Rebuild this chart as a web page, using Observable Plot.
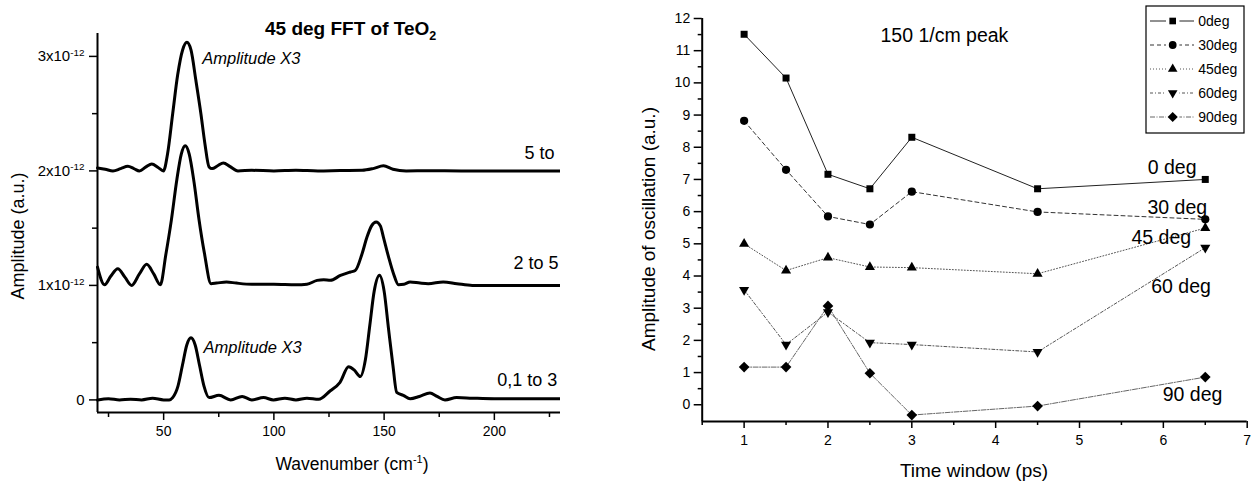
<!DOCTYPE html>
<html><head><meta charset="utf-8">
<script src="https://cdn.jsdelivr.net/npm/d3@7"></script>
<script src="https://cdn.jsdelivr.net/npm/@observablehq/plot@0.6"></script>
<style>
body{margin:0;background:#fff;}
#wrap{display:flex;width:1253px;height:484px;overflow:hidden;background:#fff;}
#wrap svg{overflow:hidden;flex:none;}
</style></head><body><div id="wrap"></div>
<script>
const FONT = '"Liberation Sans", Arial, Helvetica, sans-serif';

// ---------- Left panel: 45 deg FFT of TeO2 (amplitudes in units of 1e-12) ----------
const fftLabels = ["5 to", "2 to 5", "0,1 to 3"];
const fftOffsets = [2, 1, 0];
const wnTop  = [20, 23.5, 27, 30.5, 33.8, 36.5, 39, 42, 44.6, 47.5, 49.9, 51.8, 54.1, 56.35, 58.6, 60.55, 62.4, 64.6, 66.9, 68.7, 70.6, 72, 74.5, 77.1, 80, 83.7, 90, 100, 110, 120, 130, 140, 145, 149.7, 154, 160, 170, 185, 200, 230];
const ampTop = [0.026, 0.015, 0.0, 0.02, 0.04, 0.02, 0.0, 0.035, 0.06, 0.03, 0.0, 0.152, 0.499, 0.837, 1.056, 1.123, 1.056, 0.793, 0.499, 0.24, 0.035, 0.02, 0.045, 0.07, 0.04, 0.0, 0.005, 0.0, 0.005, 0.0, 0.003, 0.005, 0.02, 0.044, 0.015, 0.0, 0.002, 0.0, 0.0, 0.0];
const wnMid  = [20, 23.2, 26, 29.2, 32.5, 35.5, 39, 42.3, 45.5, 48.5, 51, 53.5, 56, 58, 59.8, 61.6, 63.8, 66, 68.5, 71.5, 74, 78.5, 83, 90, 100, 110, 115, 119.6, 122.6, 125.6, 130.2, 134.7, 136.9, 140, 142.2, 144.3, 146.4, 148.3, 149.7, 152, 154.3, 156.5, 159, 161.8, 166.3, 170, 176.8, 183, 190, 200, 230];
const ampMid = [0.16, 0.006, 0.08, 0.146, 0.07, 0.0, 0.1, 0.184, 0.1, 0.006, 0.27, 0.57, 0.925, 1.147, 1.22, 1.147, 0.9, 0.58, 0.28, 0.015, 0.02, 0.03, 0.02, 0.01, 0.01, 0.005, 0.01, 0.044, 0.05, 0.044, 0.087, 0.117, 0.13, 0.277, 0.42, 0.52, 0.554, 0.52, 0.42, 0.25, 0.10, 0.006, 0.01, 0.03, 0.02, 0.015, 0.03, 0.015, 0.0, 0.0, 0.0];
const wnBot  = [20, 25, 30, 35, 40, 45, 50, 52.5, 54.1, 56.5, 58.5, 60.5, 62.4, 64.3, 66.3, 68.3, 70.6, 75.1, 80.4, 85.6, 90, 95.3, 99.8, 105, 110, 115, 120.3, 125.6, 130, 133.9, 136.5, 139.2, 141.5, 143.5, 145.5, 147.9, 150, 152, 154, 155.7, 158.7, 161.8, 166, 170.8, 174, 177.6, 182.9, 190, 200, 230];
const ampBot = [0.0, 0.01, 0.0, 0.005, 0.0, 0.015, 0.0, 0.0, 0.02, 0.12, 0.3, 0.48, 0.542, 0.48, 0.3, 0.12, 0.02, 0.04, 0.0, 0.03, 0.0, 0.02, 0.0, 0.015, 0.0, 0.015, 0.005, 0.08, 0.154, 0.29, 0.26, 0.204, 0.35, 0.65, 0.95, 1.088, 0.95, 0.62, 0.3, 0.066, 0.04, 0.01, 0.03, 0.06, 0.03, 0.0, 0.02, 0.015, 0.01, 0.01];
const fftWn = [wnTop, wnMid, wnBot];
const fftAmp = [ampTop, ampMid, ampBot];
const fftLabelPos = [[213.7, 2.152], [208.7, 1.194], [201.3, 0.169]];
const x3Notes = ["Amplitude X3", "Amplitude X3"];
const x3Pos = [[67.5, 2.984], [68.1, 0.46]];
const leftYTicks = [0, 1, 2, 3];
const leftYMinor = [0.5, 1.5, 2.5];
const leftXTicks = [50, 100, 150, 200];
const leftXMinor = [25, 75, 125, 175, 225];
const E = 1e-12;

const fftRows = [];
fftWn.forEach((xs, i) => xs.forEach((w, j) => fftRows.push({s: i, w, a: (fftAmp[i][j] + fftOffsets[i]) * E})));

const left = Plot.plot({
  width: 560, height: 484,
  marginLeft: 97, marginRight: 0, marginTop: 33, marginBottom: 72,
  style: {fontFamily: FONT, fontSize: "14px", color: "black", background: "white", overflow: "hidden"},
  x: {domain: [20, 230]},
  y: {domain: [-0.11 * E, 3.2 * E]},
  marks: [
    Plot.axisX({ticks: leftXTicks, tickSize: 8, tickPadding: 6, strokeWidth: 1.5, label: null, fontSize: 14, tickFormat: d => String(d)}),
    Plot.axisX({ticks: leftXMinor, tickSize: 5, strokeWidth: 1.5, tickFormat: () => "", label: null}),
    Plot.axisY({ticks: leftYTicks.map(d => d * E), tickSize: 8, tickPadding: 5, strokeWidth: 1.5, label: null, fontSize: 15,
      tickFormat: d => { const k = Math.round(d / E); return k === 0 ? "0" : `${k}x10^-12`; }}),
    Plot.axisY({ticks: leftYMinor.map(d => d * E), tickSize: 5, strokeWidth: 1.5, tickFormat: () => "", label: null}),
    Plot.ruleX([20], {strokeWidth: 2}),
    Plot.ruleY([-0.11 * E], {strokeWidth: 2}),
    ...[0, 1, 2].map(i => Plot.line(fftRows.filter(r => r.s === i), {x: "w", y: "a", curve: "monotone-x", stroke: "black", strokeWidth: 3})),
    Plot.text(fftLabels, {x: (d, i) => fftLabelPos[i][0], y: (d, i) => fftLabelPos[i][1] * E, text: d => d, textAnchor: "start", fontSize: 18}),
    Plot.text(x3Notes, {x: (d, i) => x3Pos[i][0], y: (d, i) => x3Pos[i][1] * E, text: d => d, textAnchor: "start", fontSize: 16.5, fontStyle: "italic"})
  ]
});

// superscripts on y tick labels
d3.select(left).selectAll('g[aria-label="y-axis tick label"] text').each(function() {
  const t = this.textContent;
  if (t.includes("^")) {
    const [base, exp] = t.split("^");
    const sel = d3.select(this);
    sel.text(null);
    sel.append("tspan").text(base);
    sel.append("tspan").attr("dy", "-0.55em").attr("font-size", "0.66em").text(exp);
  }
});
{
  const s = d3.select(left);
  const title = s.append("text").attr("x", 265).attr("y", 35).attr("text-anchor", "start").attr("font-family", FONT).attr("font-weight", "bold").attr("font-size", 19).attr("fill", "black");
  title.append("tspan").text("45 deg FFT of TeO");
  title.append("tspan").attr("dy", 5).attr("font-size", 12.5).text("2");
  const xl = s.append("text").attr("x", 352).attr("y", 470).attr("text-anchor", "middle").attr("font-family", FONT).attr("font-size", 17.5).attr("fill", "black");
  xl.append("tspan").text("Wavenumber (cm");
  xl.append("tspan").attr("dy", -7).attr("font-size", 11).text("-1");
  xl.append("tspan").attr("dy", 7).text(")");
  s.append("text").attr("transform", "translate(24,236) rotate(-90)").attr("text-anchor", "middle").attr("font-family", FONT).attr("font-size", 18).attr("fill", "black").text("Amplitude (a.u.)");
}

// ---------- Right panel: 150 1/cm peak ----------
const timeWindow = [1, 1.5, 2, 2.5, 3, 4.5, 6.5];
const seriesNames = ["0deg", "30deg", "45deg", "60deg", "90deg"];
const amp0  = [11.51, 10.15, 7.16, 6.71, 8.31, 6.71, 7.0];
const amp30 = [8.82, 7.30, 5.85, 5.60, 6.62, 5.99, 5.76];
const amp45 = [5.0, 4.17, 4.57, 4.28, 4.26, 4.07, 5.49];
const amp60 = [3.57, 1.87, 2.88, 1.93, 1.87, 1.64, 4.88];
const amp90 = [1.17, 1.17, 3.07, 0.98, -0.32, -0.04, 0.86];
const seriesAmp = [amp0, amp30, amp45, amp60, amp90];
const annoText = ["0 deg", "30 deg", "45 deg", "60 deg", "90 deg", "150 1/cm peak"];
const annoX = [5.814, 5.81, 5.62, 5.855, 5.993, 2.626];
const annoY = [7.35, 6.12, 5.18, 3.675, 0.32, 11.45];
const rightYTicks = d3.range(0, 13);
const rightYMinor = d3.range(0.5, 12, 1);
const rightXTicks = d3.range(1, 8);
const rightXMinor = [0.5, 1.5, 2.5, 3.5, 4.5, 5.5, 6.5];

const triDown = {draw(ctx, size) { const y = Math.sqrt(size / (Math.sqrt(3) * 3)); ctx.moveTo(0, 2 * y); ctx.lineTo(-Math.sqrt(3) * y, -y); ctx.lineTo(Math.sqrt(3) * y, -y); ctx.closePath(); }};
const symbols = ["square", "circle", "triangle", triDown, "diamond2"];
const d3Symbols = [d3.symbolSquare, d3.symbolCircle, d3.symbolTriangle, triDown, d3.symbolDiamond2];
const radii = [3.95, 4.1, 3.75, 3.75, 4.8];
const dashes = [null, "4,3", "1,2", "3,2,1,2", "5,1.5,1,1.5"];
const lineColors = ["#222", "#333", "#555", "#555", "#666"];

const right = Plot.plot({
  width: 693, height: 484,
  marginLeft: 141.7, marginRight: 6.3, marginTop: 18, marginBottom: 63,
  style: {fontFamily: FONT, fontSize: "14px", color: "black", background: "white", overflow: "hidden"},
  x: {domain: [0.5, 7]},
  y: {domain: [-0.52, 12]},
  marks: [
    Plot.axisX({ticks: rightXTicks, tickSize: 7, tickPadding: 7, strokeWidth: 1.5, label: null, fontSize: 14, tickFormat: d => String(d)}),
    Plot.axisX({ticks: rightXMinor, tickSize: 4, strokeWidth: 1.5, tickFormat: () => "", label: null}),
    Plot.axisY({ticks: rightYTicks, tickSize: 8, tickPadding: 4, strokeWidth: 1.5, label: null, fontSize: 14, tickFormat: d => String(d)}),
    Plot.axisY({ticks: rightYMinor, tickSize: 4, strokeWidth: 1.5, tickFormat: () => "", label: null}),
    Plot.ruleX([0.5], {strokeWidth: 2}),
    Plot.ruleY([-0.52], {strokeWidth: 2}),
    ...seriesAmp.map((a, i) => Plot.line(timeWindow, {x: d => d, y: (d, j) => a[j], stroke: lineColors[i], strokeWidth: 1, strokeDasharray: dashes[i]})),
    ...seriesAmp.map((a, i) => Plot.dot(timeWindow, {x: d => d, y: (d, j) => a[j], symbol: symbols[i], r: radii[i], fill: "black", stroke: "none"})),
    Plot.text(annoText, {x: (d, i) => annoX[i], y: (d, i) => annoY[i], text: d => d, textAnchor: "start", fontSize: 19.5})
  ]
});

{
  const s = d3.select(right);
  s.append("text").attr("x", 414).attr("y", 477).attr("text-anchor", "middle").attr("font-family", FONT).attr("font-size", 19).attr("fill", "black").text("Time window (ps)");
  s.append("text").attr("transform", "translate(95,229) rotate(-90)").attr("text-anchor", "middle").attr("font-family", FONT).attr("font-size", 19).attr("fill", "black").text("Amplitude of oscillation (a.u.)");
  // legend
  const g = s.append("g").attr("transform", "translate(586,6)");
  g.append("rect").attr("x", 0).attr("y", 0).attr("width", 98).attr("height", 127).attr("fill", "white").attr("stroke", "black").attr("stroke-width", 1.2);
  seriesNames.forEach((name, i) => {
    const yy = 15 + i * 24;
    g.append("line").attr("x1", 4).attr("x2", 48).attr("y1", yy).attr("y2", yy).attr("stroke", lineColors[i]).attr("stroke-width", 1).attr("stroke-dasharray", dashes[i]);
    g.append("rect").attr("x", 20).attr("y", yy - 6).attr("width", 13.4).attr("height", 12).attr("fill", "white");
    g.append("path").attr("transform", `translate(26.7,${yy})`).attr("d", d3.symbol(d3Symbols[i], Math.PI * radii[i] * radii[i] * 0.9)()).attr("fill", "black");
    g.append("text").attr("x", 52.3).attr("y", yy).attr("dy", "0.35em").attr("text-anchor", "start").attr("font-family", FONT).attr("font-size", 14).attr("fill", "black").text(name);
  });
}

const wrap = document.getElementById("wrap");
wrap.appendChild(left);
wrap.appendChild(right);
</script></body></html>
